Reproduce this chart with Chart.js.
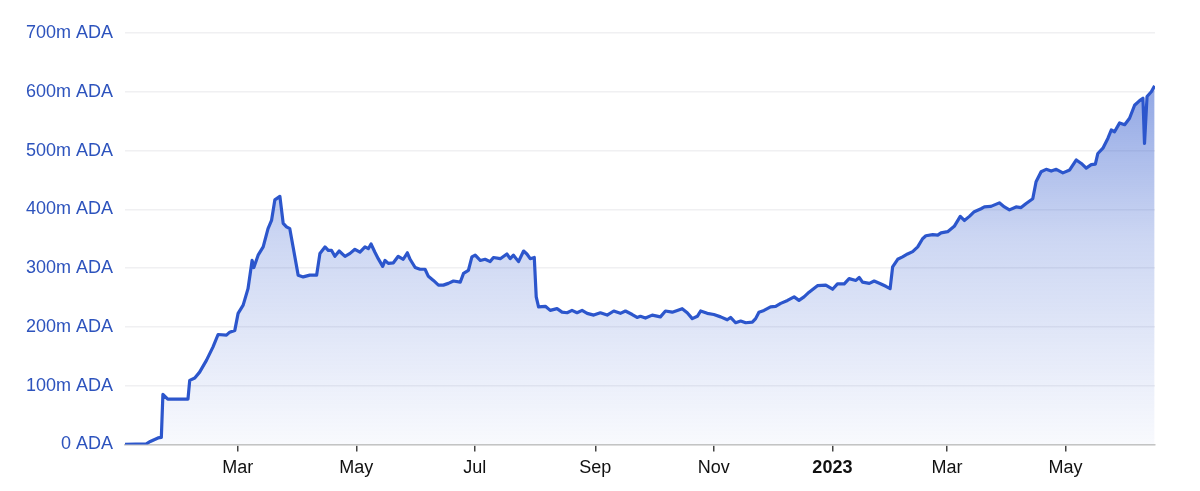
<!DOCTYPE html>
<html>
<head>
<meta charset="utf-8">
<script src="https://cdn.jsdelivr.net/npm/chart.js@4"></script>
<style>
  html, body { margin: 0; padding: 0; background: #fff; }
  #wrap { width: 1200px; height: 491px; }
</style>
</head>
<body>
<div id="wrap"><canvas id="chartAda"></canvas></div>
<script>
// days since 2022-01-01
const days = [
  1, 12, 14, 18, 19.7, 20.5, 23, 33.4, 34.3, 36.9, 39.4, 42.9, 46.3, 48.9, 53.2, 54.9, 57.5,
  59.2, 61.8, 64.3, 66.4, 67.3, 69.5, 72.1, 74.6, 76.4, 78.1, 80.7, 82.4, 84.1, 85.8, 87.5,
  90.1, 92.7, 96.1, 99.6, 101.3, 103.9, 105.6, 107.3, 109, 111.2, 114.2, 116.8, 119.3, 121.9,
  124.5, 126.2, 127.6, 129.6, 131.3, 133.6, 134.8, 136.5, 139.1, 141.6, 144.2, 146.3, 147.7,
  150.3, 152.8, 155.4, 157.1, 159.7, 162.3, 164.8, 167.4, 170, 173.5, 175.2, 177.7, 179.5,
  181.2, 183.8, 186.3, 188.9, 190.6, 194.1, 197.5, 199.2, 200.9, 203.5, 206.1, 207.8, 209.5,
  211.6, 212.6, 213.8, 217.3, 219.8, 223.3, 225.9, 228.5, 231, 233.6, 236.2, 238.8, 242.2,
  245.6, 249.1, 252.5, 255.9, 258.5, 262, 264.5, 266.2, 268.8, 272.3, 276.5, 279.1, 282.6,
  285.2, 287.7, 290.3, 292.9, 295.5, 297.2, 300.6, 304, 307.5, 310.9, 312.6, 315.2, 317.8,
  320.4, 323.8, 325.5, 327.2, 329.8, 333.2, 335.8, 338.4, 341.9, 345.3, 347.8, 350.4, 353,
  357.3, 361.6, 365.1, 367.6, 371.1, 373.6, 377.1, 378.8, 380.5, 384, 386.5, 390, 392.5,
  394.7, 396, 398.6, 401.1, 403.7, 406.3, 408.9, 411.4, 413.1, 416.6, 419.2, 420.9, 424.3,
  427.7, 430.8, 432.9, 435.5, 438, 441.5, 443.2, 446.6, 450.9, 453.5, 456.1, 459.5, 462.1,
  464.7, 468.1, 469.8, 472.4, 475, 477.6, 480.2, 483.6, 487.1, 490.5, 493.1, 495.6, 498.2,
  500.3, 501.6, 504.2, 506.8, 508.5, 510.2, 512.8, 515.4, 517.9, 520.5, 523.1, 524.8, 525.6,
  526.9, 529.1, 530.8
];

// million ADA
const valuesM = [
  0, 1, 5, 11, 12, 85, 77, 77, 109, 113, 123, 143, 166, 187, 186, 191, 194,
  223, 237, 265, 313, 301, 322, 336, 367, 381, 416, 422, 376, 370, 367, 336,
  288, 285, 288, 288, 325, 336, 330, 330, 320, 329, 320, 325, 332, 327,
  336, 333, 341, 327, 316, 303, 313, 308, 309, 320, 315, 326, 315,
  301, 298, 298, 286, 279, 271, 271, 274, 278, 276, 291, 296, 319,
  322, 313, 315, 311, 318, 316, 324, 316, 322, 311, 329, 324, 316,
  318, 251, 234, 235, 228, 231, 225, 224, 228, 224, 228, 223, 220,
  224, 220, 227, 223, 227, 221, 216, 218, 215, 220, 217, 227, 225,
  228, 231, 224, 214, 218, 227, 223, 221, 217, 212, 216, 207, 210,
  207, 208, 214, 225, 228, 234, 235, 240, 245, 251, 245, 251, 259,
  270, 271, 264, 273, 273, 282, 279, 284, 276, 274, 278, 273, 269,
  265, 302, 315, 319, 324, 328, 336, 350, 355, 357, 356, 360, 362,
  371, 388, 381, 388, 396, 401, 404, 405, 411, 404, 399, 404, 403,
  410, 418, 447, 464, 468, 465, 468, 462, 467, 484, 478, 470, 476,
  477, 495, 504, 521, 535, 532, 547, 544, 555, 577, 585, 589, 512,
  592, 600, 610
];

const tickDays = [59, 120, 181, 243, 304, 365, 424, 485];
const tickLabels = ['Mar', 'May', 'Jul', 'Sep', 'Nov', '2023', 'Mar', 'May'];
const yTicks = [0, 100, 200, 300, 400, 500, 600, 700];

const points = days.map((d, i) => ({ x: d, y: valuesM[i] }));
const fontFamily = '"Liberation Sans", Arial, Helvetica, sans-serif';

new Chart(document.getElementById('chartAda'), {
  type: 'line',
  data: {
    datasets: [{
      data: points,
      borderColor: '#2c56cc',
      borderWidth: 3.2,
      borderJoinStyle: 'round',
      pointRadius: 0,
      tension: 0,
      fill: 'origin',
      backgroundColor: (ctx) => {
        const area = ctx.chart.chartArea;
        if (!area) return 'rgba(44,86,204,0.2)';
        const g = ctx.chart.ctx.createLinearGradient(0, area.top, 0, area.bottom);
        g.addColorStop(0, 'rgba(44,86,204,0.62)');
        g.addColorStop(0.5, 'rgba(44,86,204,0.24)');
        g.addColorStop(1, 'rgba(44,86,204,0.03)');
        return g;
      }
    }]
  },
  options: {
    responsive: true,
    maintainAspectRatio: false,
    animation: false,
    layout: { padding: { left: 0, right: 45, top: 33, bottom: 6 } },
    plugins: {
      legend: { display: false },
      tooltip: { enabled: false }
    },
    scales: {
      x: {
        type: 'linear',
        min: 1,
        max: 531,
        afterBuildTicks: (scale) => {
          scale.ticks = tickDays.map(v => ({ value: v }));
        },
        ticks: {
          autoSkip: false,
          maxRotation: 0,
          color: '#111',
          padding: 6,
          font: (ctx) => ({
            family: fontFamily,
            size: 18,
            weight: tickLabels[ctx.index] === '2023' ? 'bold' : 'normal'
          }),
          callback: (value, index) => tickLabels[index]
        },
        grid: {
          drawOnChartArea: false,
          drawTicks: true,
          tickLength: 7,
          color: '#444',
          lineWidth: 1.5
        },
        border: { display: true, color: '#c4c4c4', width: 1.5 }
      },
      y: {
        min: 0,
        max: 700,
        afterBuildTicks: (scale) => {
          scale.ticks = yTicks.map(v => ({ value: v }));
        },
        afterFit: (scale) => { scale.width = 125; },
        ticks: {
          color: '#2d53bd',
          padding: 12,
          font: { family: fontFamily, size: 18 },
          callback: (v) => v === 0 ? '0 ADA' : v + 'm ADA'
        },
        grid: { color: '#f0f0f2', lineWidth: 1.5, drawTicks: false },
        border: { display: false }
      }
    }
  }
});
</script>
</body>
</html>
